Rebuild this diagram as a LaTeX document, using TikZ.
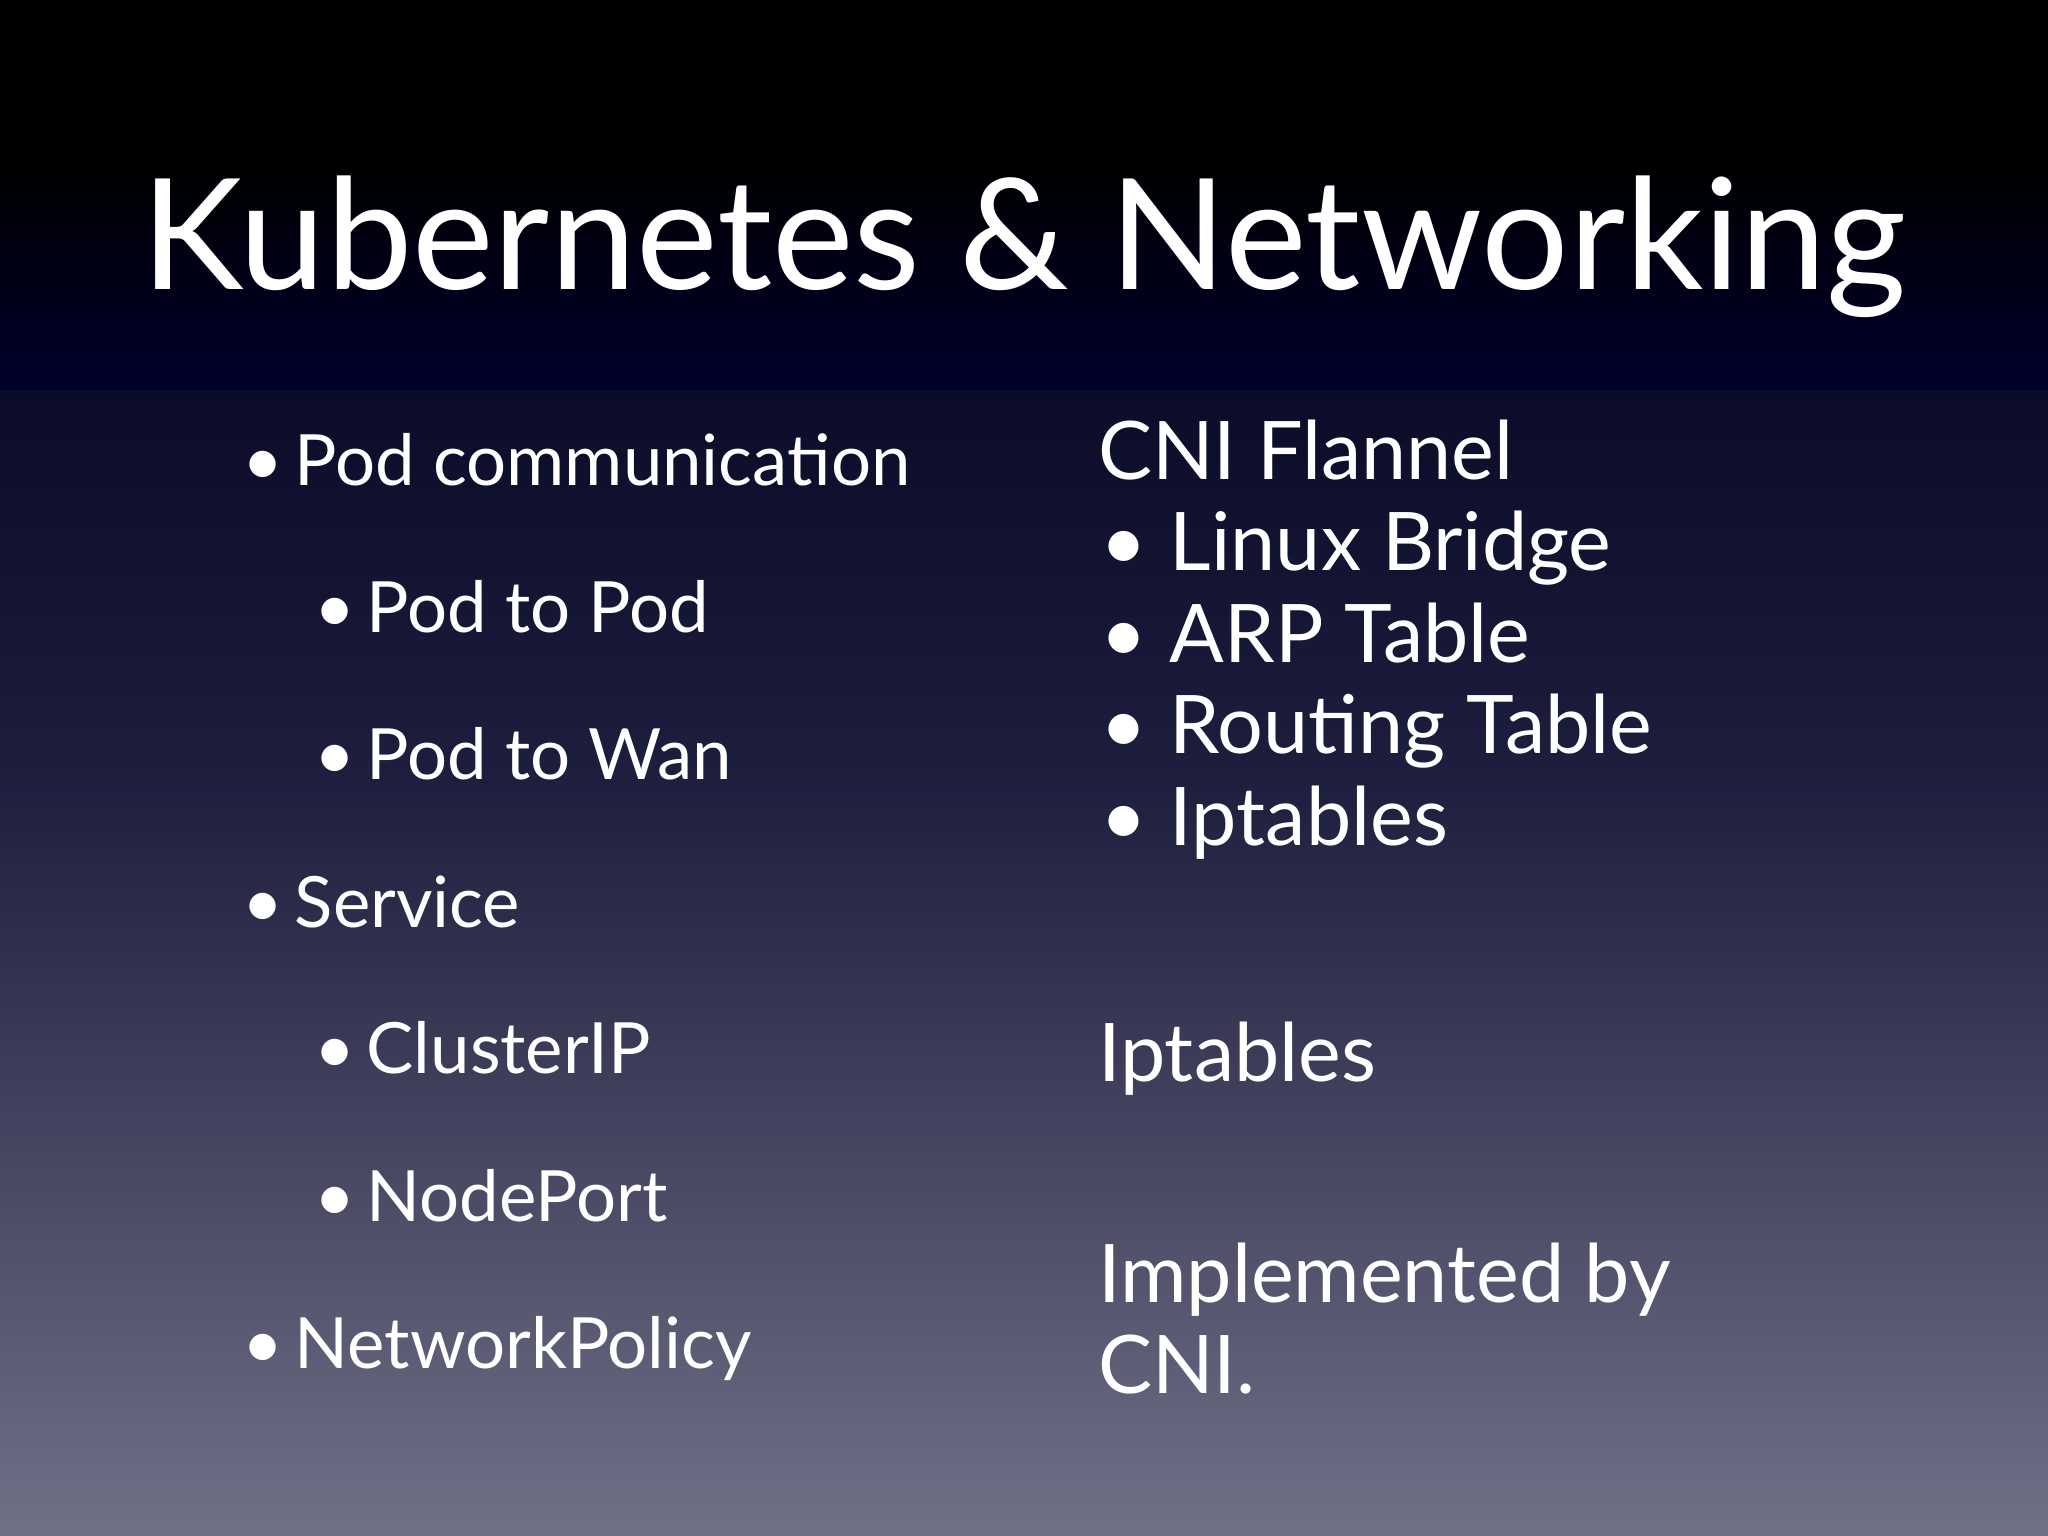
\documentclass[tikz,border=0pt]{standalone}
\usepackage{fontspec}
\setmainfont{Lato}
\begin{document}
\begin{tikzpicture}[x=0.01cm,y=-0.01cm,
  t/.style={anchor=base west,text=white,inner sep=0pt},
  lf/.style={t,font=\fontsize{15.4}{18}\selectfont},
  rf/.style={t,font=\fontsize{17.6}{21}\selectfont}]
\useasboundingbox (0,0) rectangle (1568,1176);
\shade[top color=black,bottom color=black,middle color=black] (0,0) rectangle (1568,120);
\shade[top color=black,bottom color=black!70!blue!60!black] (0,120) rectangle (1568,300);
\shade[top color={rgb,255:red,10;green,12;blue,40},bottom color={rgb,255:red,30;green,30;blue,62}] (0,299) rectangle (1568,600);
\shade[top color={rgb,255:red,30;green,30;blue,62},bottom color={rgb,255:red,112;green,112;blue,135}] (0,599) rectangle (1568,1176);
\node[t,anchor=base,font=\fontsize{33.6}{40}\selectfont] (title) at (784,222) {Kubernetes \& Networking};
\foreach \n/\x/\y/\s in {a/185/372/Pod communication,b/240/484/Pod to Pod,c/240/597/Pod to Wan,d/185/710/Service,e/240/822/ClusterIP,f/240/935/NodePort,g/185/1048/NetworkPolicy}{
  \node[lf] (b\n) at (\x,\y) {•};
  \node[lf] (l\n) at (\x+40,\y) {\s};
}
\node[rf] (cni) at (840,367) {CNI Flannel};
\foreach \n/\y/\s in {a/437/Linux Bridge,b/507/ARP Table,c/577/Routing Table,d/647/Iptables}{
  \node[rf] (rb\n) at (842,\y) {•};
  \node[rf] (r\n) at (895,\y) {\s};
}
\node[rf] (ipt) at (840,828) {Iptables};
\node[rf] (impl) at (840,997) {Implemented by};
\node[rf] (cni2) at (840,1067) {CNI.};
\end{tikzpicture}
\end{document}
